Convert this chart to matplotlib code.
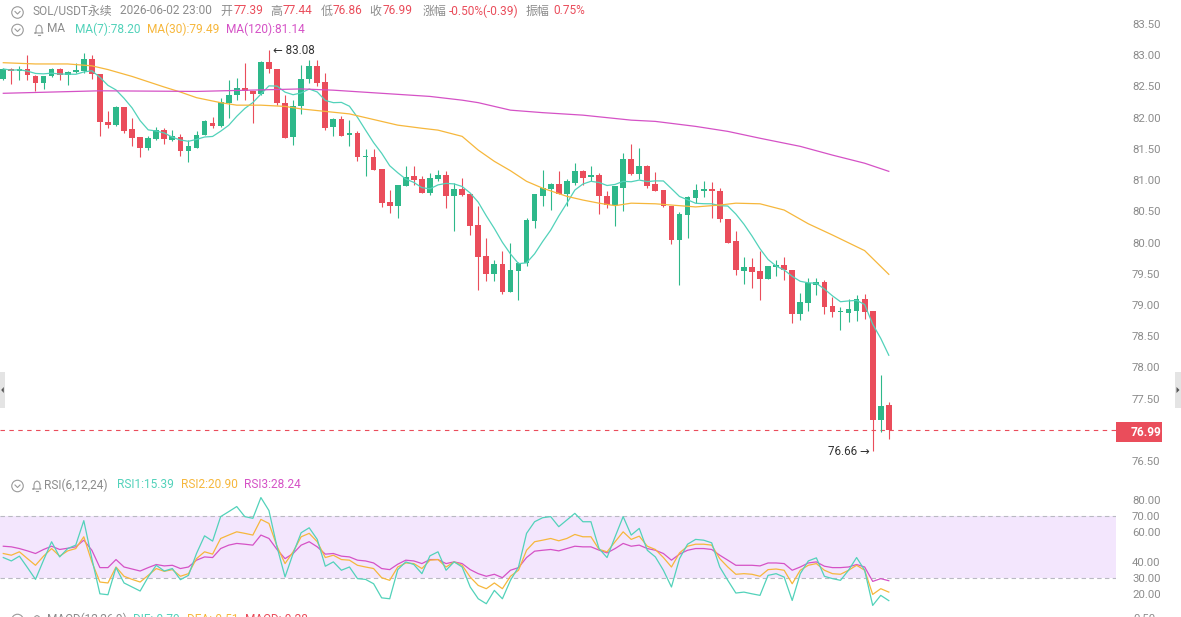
import matplotlib
matplotlib.use("Agg")
import matplotlib.pyplot as plt
from matplotlib.patches import Rectangle, Ellipse, Polygon
from matplotlib.lines import Line2D
import numpy as np
import pandas as pd

plt.rcParams['font.family'] = ['Roboto', 'Noto Sans CJK SC', 'DejaVu Sans']

# --- candle data (1h, SOL/USDT perpetual) ---
opens = [82.62, 82.78, 82.74, 82.78, 82.67, 82.56, 82.66, 82.78, 82.68, 82.73,
         82.75, 82.94, 82.70, 81.93, 81.88, 82.17, 81.82, 81.69, 81.51, 81.66,
         81.80, 81.64, 81.69, 81.47, 81.52, 81.72, 81.91, 81.86, 82.24, 82.36,
         82.48, 82.42, 82.38, 82.89, 82.78, 82.23, 81.69, 82.18, 82.62, 82.82,
         82.57, 81.85, 81.98, 81.72, 81.76, 81.37, 81.37, 81.18, 80.65, 80.58,
         80.91, 81.07, 81.02, 80.80, 81.02, 81.08, 80.75, 80.86, 80.78, 80.28,
         79.79, 79.50, 79.66, 79.20, 79.54, 79.67, 80.35, 80.75, 80.86, 80.94,
         80.78, 80.96, 81.14, 81.05, 81.08, 80.75, 80.60, 80.88, 81.34, 81.10,
         81.23, 80.94, 80.84, 80.59, 80.04, 80.44, 80.72, 80.83, 80.86, 80.83,
         80.38, 80.03, 79.55, 79.60, 79.54, 79.42, 79.61, 79.64, 79.56, 78.86,
         79.03, 79.32, 79.37, 78.98, 78.88, 78.87, 78.91, 79.10, 78.90, 77.16,
         77.39]
highs = [82.79, 82.79, 82.82, 83.00, 82.68, 82.67, 82.79, 82.79, 82.74, 82.87,
         83.03, 83.00, 82.70, 82.11, 82.19, 82.17, 81.99, 81.69, 81.70, 81.85,
         81.83, 81.80, 81.74, 81.64, 81.78, 81.96, 82.01, 82.32, 82.60, 82.63,
         82.87, 82.42, 82.91, 83.08, 82.78, 82.36, 82.28, 82.84, 82.92, 82.92,
         82.71, 81.99, 82.02, 81.96, 81.78, 81.50, 81.50, 81.18, 80.84, 80.92,
         81.23, 81.22, 81.07, 81.12, 81.16, 81.14, 80.95, 81.03, 80.78, 80.58,
         80.07, 79.72, 79.86, 79.99, 79.68, 80.40, 80.78, 81.16, 80.95, 81.15,
         81.02, 81.28, 81.16, 81.23, 81.11, 80.83, 80.90, 81.43, 81.58, 81.51,
         81.24, 81.13, 80.84, 80.59, 80.49, 80.74, 80.94, 80.99, 80.97, 80.87,
         80.38, 80.19, 79.77, 79.75, 79.87, 79.62, 79.72, 79.76, 79.56, 79.19,
         79.43, 79.43, 79.40, 79.13, 78.97, 79.10, 79.16, 79.18, 78.91, 77.88,
         77.44]
lows = [82.60, 82.54, 82.60, 82.60, 82.42, 82.46, 82.65, 82.60, 82.52, 82.71,
        82.71, 82.62, 81.71, 81.83, 81.86, 81.76, 81.54, 81.37, 81.48, 81.64,
        81.58, 81.62, 81.38, 81.29, 81.51, 81.72, 81.83, 81.85, 81.99, 82.28,
        82.28, 81.91, 82.36, 82.71, 82.20, 81.67, 81.56, 82.06, 82.56, 82.51,
        81.80, 81.70, 81.70, 81.55, 81.31, 81.06, 81.16, 80.57, 80.48, 80.39,
        80.91, 80.92, 80.79, 80.76, 80.98, 80.56, 80.18, 80.74, 80.12, 79.24,
        79.38, 79.39, 79.18, 79.20, 79.08, 79.63, 80.23, 80.59, 80.52, 80.78,
        80.58, 80.92, 80.92, 80.98, 80.46, 80.55, 80.27, 80.51, 81.08, 81.02,
        80.87, 80.82, 80.57, 79.98, 79.32, 80.07, 80.63, 80.73, 80.40, 80.33,
        80.00, 79.48, 79.34, 79.27, 79.08, 79.42, 79.46, 79.40, 78.71, 78.76,
        78.91, 79.16, 78.86, 78.81, 78.60, 78.72, 78.75, 78.78, 76.66, 76.97,
        76.86]
closes = [82.78, 82.74, 82.78, 82.68, 82.56, 82.67, 82.78, 82.68, 82.73, 82.76,
          82.94, 82.70, 81.93, 81.88, 82.17, 81.79, 81.68, 81.51, 81.67, 81.80,
          81.66, 81.70, 81.47, 81.54, 81.72, 81.94, 81.86, 82.25, 82.36, 82.48,
          82.42, 82.38, 82.89, 82.78, 82.23, 81.68, 82.19, 82.62, 82.82, 82.56,
          81.83, 81.98, 81.71, 81.76, 81.37, 81.39, 81.16, 80.64, 80.58, 80.92,
          81.05, 81.00, 80.80, 81.03, 81.08, 80.75, 80.86, 80.76, 80.27, 79.77,
          79.50, 79.66, 79.20, 79.56, 79.67, 80.36, 80.78, 80.88, 80.94, 80.78,
          80.99, 81.15, 81.04, 81.08, 80.75, 80.60, 80.90, 81.34, 81.10, 81.23,
          80.91, 80.83, 80.59, 80.04, 80.46, 80.73, 80.84, 80.86, 80.82, 80.38,
          80.00, 79.56, 79.60, 79.52, 79.42, 79.62, 79.64, 79.56, 78.85, 79.04,
          79.35, 79.37, 78.97, 78.88, 78.90, 78.94, 79.10, 78.89, 77.16, 77.38,
          76.99]

ma30_idx = [0, 4, 8, 11, 13, 16, 20, 22, 24, 27, 29, 32, 35, 37, 40, 43, 46, 49, 52, 54, 57,
            59, 61, 63, 65, 67, 70, 72, 74, 76, 78, 81, 84, 86, 89, 91, 94, 97, 100, 103, 107, 110]
ma30_val = [82.88, 82.86, 82.86, 82.83, 82.77, 82.66, 82.49, 82.41, 82.32, 82.24, 82.20,
            82.20, 82.18, 82.14, 82.10, 82.06, 81.97, 81.88, 81.83, 81.80, 81.70, 81.48,
            81.30, 81.15, 80.98, 80.87, 80.74, 80.68, 80.63, 80.59, 80.63, 80.62, 80.59,
            80.57, 80.60, 80.63, 80.62, 80.52, 80.30, 80.12, 79.87, 79.49]
ma120_idx = [0, 12, 24, 37, 41, 47, 53, 57, 59, 63, 67, 72, 78, 81, 86, 90, 94, 99, 103, 107, 110]
ma120_val = [82.39, 82.43, 82.42, 82.46, 82.44, 82.39, 82.34, 82.28, 82.24, 82.12, 82.08,
             82.04, 81.96, 81.94, 81.86, 81.78, 81.67, 81.54, 81.40, 81.27, 81.14]

# RSI(6,12,24)
rsi1 = [43.2, 41.0, 44.1, 36.7, 29.1, 41.5, 53.4, 43.6, 49.0, 51.2, 67.0, 42.5, 19.8, 19.2,
        36.7, 26.8, 24.2, 21.6, 30.7, 38.2, 34.5, 36.1, 28.9, 31.7, 45.8, 57.2, 53.8, 69.6,
        72.8, 76.1, 69.6, 68.5, 81.9, 73.5, 50.1, 30.7, 45.8, 59.2, 62.4, 54.9, 37.6, 40.4,
        35.0, 37.1, 29.6, 29.1, 26.3, 17.2, 16.6, 35.4, 40.4, 38.7, 32.8, 44.3, 46.9, 35.0,
        40.4, 37.1, 24.2, 16.6, 13.4, 22.0, 16.6, 28.5, 37.1, 58.8, 66.3, 68.9, 69.6, 63.1,
        67.4, 71.7, 66.3, 66.3, 49.0, 43.2, 56.6, 69.6, 57.7, 62.0, 47.9, 43.6, 35.0, 24.2,
        42.5, 51.8, 54.9, 54.4, 52.7, 37.1, 28.5, 20.3, 20.9, 19.8, 18.8, 31.7, 32.8, 30.6,
        15.5, 32.8, 41.0, 43.0, 31.1, 29.6, 28.5, 35.0, 43.2, 35.0, 12.3, 18.8, 15.4]
rsi2 = [45.8, 44.7, 46.9, 42.5, 38.2, 44.1, 49.0, 44.1, 47.5, 49.0, 56.6, 40.4, 27.4, 26.8,
        37.1, 31.1, 29.1, 27.4, 31.7, 36.1, 34.3, 35.4, 31.1, 32.8, 42.5, 46.9, 45.4, 55.5,
        57.7, 59.8, 58.8, 57.7, 67.8, 65.2, 50.5, 39.3, 46.9, 56.6, 58.8, 53.4, 43.2, 44.7,
        41.9, 41.5, 38.2, 37.1, 36.1, 30.2, 28.5, 37.1, 39.7, 39.3, 36.1, 41.5, 41.9, 37.1,
        40.4, 38.2, 30.6, 25.2, 23.1, 26.8, 23.1, 31.1, 35.0, 47.9, 53.4, 54.4, 55.5, 54.0,
        55.5, 58.1, 56.6, 56.6, 48.5, 46.9, 53.4, 59.8, 54.9, 57.0, 50.5, 48.4, 43.2, 37.1,
        46.2, 50.5, 51.8, 51.8, 51.2, 42.5, 37.1, 32.4, 32.8, 32.4, 31.1, 35.4, 35.8, 35.0,
        26.3, 35.0, 38.2, 39.3, 35.0, 32.8, 32.4, 35.0, 38.2, 35.0, 19.4, 23.1, 20.9]
rsi3 = [50.5, 50.1, 49.0, 47.5, 45.8, 48.4, 50.5, 48.4, 49.2, 50.1, 54.4, 47.9, 36.7, 36.7,
        41.9, 37.1, 35.8, 34.5, 36.7, 38.7, 37.8, 38.2, 36.1, 37.1, 41.5, 43.6, 43.2, 49.0,
        51.2, 52.3, 51.8, 51.2, 57.7, 55.5, 48.4, 42.5, 45.8, 51.2, 53.4, 50.1, 45.4, 45.8,
        44.1, 43.6, 41.5, 41.0, 39.7, 36.1, 35.4, 38.9, 41.5, 41.0, 39.3, 41.9, 41.9, 39.3,
        40.4, 39.3, 35.4, 32.8, 31.1, 32.4, 30.2, 35.0, 36.7, 43.2, 47.3, 47.9, 48.4, 47.5,
        49.0, 50.5, 50.1, 50.1, 48.0, 46.2, 49.0, 52.3, 50.5, 51.2, 49.0, 47.9, 45.8, 41.5,
        45.4, 47.9, 49.0, 49.0, 48.4, 44.7, 41.5, 38.2, 38.2, 38.2, 37.8, 39.7, 39.7, 39.3,
        35.0, 37.1, 39.7, 40.4, 37.6, 36.7, 36.7, 37.1, 38.7, 37.1, 27.8, 29.6, 28.24]

price_ticks = [83.5, 83.0, 82.5, 82.0, 81.5, 81.0, 80.5, 80.0, 79.5, 79.0, 78.5, 78.0, 77.5, 76.5]
rsi_ticks = [80, 70, 60, 40, 30, 20]

GREEN = '#2eb88a'
RED = '#ea4d5b'
TEAL = '#52d2ba'
ORANGE = '#f6b73c'
MAGENTA = '#d552c6'
GRAY = '#8c8c8c'
ICON = '#9a9a9a'

W, H = 1181, 617


def fx(x):
    return x / W


def fy(y):
    return 1 - y / H


def ftext(x, y, s, color, size=8.6, ha='left', **kw):
    return fig.text(fx(x), fy(y), s, color=color, fontsize=size, ha=ha, va='center', **kw)


def circle_icon(cx, cy):
    fig.add_artist(Ellipse((fx(cx), fy(cy)), 11.5 / W, 11.5 / H, transform=fig.transFigure,
                           fill=False, edgecolor=ICON, lw=0.8))
    fig.add_artist(Line2D([fx(cx - 2.5), fx(cx), fx(cx + 2.5)], [fy(cy - 1), fy(cy + 1.5), fy(cy - 1)],
                          transform=fig.transFigure, color=ICON, lw=0.8))


def bell_icon(cx, cy):
    pts = [(-4, 3.5), (-3, 2.5), (-3, -1), (-2, -3.5), (0, -4.5), (2, -3.5), (3, -1), (3, 2.5), (4, 3.5), (-4, 3.5)]
    fig.add_artist(Line2D([fx(cx + a) for a, b in pts], [fy(cy + b) for a, b in pts],
                          transform=fig.transFigure, color=ICON, lw=0.8))
    fig.add_artist(Line2D([fx(cx - 1.2), fx(cx + 1.2)], [fy(cy + 5), fy(cy + 5)],
                          transform=fig.transFigure, color=ICON, lw=0.8))


fig = plt.figure(figsize=(W / 100, H / 100), dpi=100)
fig.patch.set_facecolor('white')

x = np.arange(len(closes))
xlim = (-3.3 / 8.05, (1116 - 3.3) / 8.05)

# ---------------- main price panel ----------------
ax = fig.add_axes([0, fy(470), fx(1116), 470 / H])
ax.set_xlim(*xlim)
ax.set_ylim(83.5 - 446 / 62.43, 83.5 + 24 / 62.43)

o = np.array(opens)
c = np.array(closes)
up = c >= o
cols = np.where(up, GREEN, RED)
ax.vlines(x, lows, highs, colors=cols, lw=0.8, zorder=2)
body_h = np.maximum(np.abs(c - o), 0.018)
ax.bar(x, body_h, bottom=np.minimum(o, c), width=0.72, color=cols, lw=0, zorder=3)

ma7 = pd.Series(closes).rolling(7, min_periods=1).mean()
ax.plot(x, ma7, color=TEAL, lw=0.9, zorder=4)
ax.plot(ma30_idx, ma30_val, color=ORANGE, lw=0.9, zorder=4)
ax.plot(ma120_idx, ma120_val, color=MAGENTA, lw=0.9, zorder=4)

ax.axhline(closes[-1], color=RED, lw=0.8, dashes=(4, 4), zorder=1)

imax = int(np.argmax(highs))
imin = int(np.argmin(lows))
ax.annotate(f'← {highs[imax]:.2f}', xy=(imax, highs[imax]), xytext=(4, 0), textcoords='offset pixels',
            ha='left', va='center', fontsize=8.4, color='#333333', family=['Roboto', 'DejaVu Sans'])
ax.annotate(f'{lows[imin]:.2f} →', xy=(imin, lows[imin]), xytext=(-3, 0), textcoords='offset pixels',
            ha='right', va='center', fontsize=8.4, color='#333333', family=['Roboto', 'DejaVu Sans'])

ax.yaxis.tick_right()
ax.set_yticks(price_ticks)
ax.set_yticklabels([f'{t:.2f}' for t in price_ticks])
ax.tick_params(axis='y', length=0, pad=11.5, labelsize=8.2, labelcolor=GRAY)
ax.set_xticks([])
for s in ax.spines.values():
    s.set_visible(False)

# ---------------- RSI panel ----------------
ax2 = fig.add_axes([0, 0, fx(1116), 127 / H])
ax2.set_xlim(*xlim)
ax2.set_ylim(30 - 39 / 1.55, 70 + 26 / 1.55)
ax2.axhspan(30, 70, color='#f3e6fd', lw=0, zorder=0)
for lvl in (30, 70):
    ax2.axhline(lvl, color='#b9b9c2', lw=0.8, dashes=(4, 3), zorder=1)
ax2.plot(x, rsi3, color=MAGENTA, lw=0.9, zorder=3)
ax2.plot(x, rsi2, color=ORANGE, lw=0.9, zorder=3)
ax2.plot(x, rsi1, color=TEAL, lw=0.9, zorder=3)
ax2.yaxis.tick_right()
ax2.set_yticks(rsi_ticks)
ax2.set_yticklabels([f'{t:.2f}' for t in rsi_ticks])
ax2.tick_params(axis='y', length=0, pad=11.5, labelsize=8.2, labelcolor=GRAY)
ax2.set_xticks([])
for s in ax2.spines.values():
    s.set_visible(False)

# ---------------- price tag & side tabs ----------------
fig.add_artist(Rectangle((fx(1116), fy(442)), 46 / W, 20 / H, transform=fig.transFigure,
                         facecolor=RED, edgecolor='none'))
ftext(1146, 432, f'{closes[-1]:.2f}', 'white', size=8.6, ha='center', weight='bold')

fig.add_artist(Rectangle((0, fy(408)), 5 / W, 36 / H, transform=fig.transFigure,
                         facecolor='#e4e4e4', edgecolor='none'))
fig.add_artist(Rectangle((fx(1175), fy(408)), 6 / W, 36 / H, transform=fig.transFigure,
                         facecolor='#e4e4e4', edgecolor='none'))
fig.add_artist(Polygon([(fx(1.2), fy(390)), (fx(3.8), fy(387)), (fx(3.8), fy(393))], closed=True,
                       transform=fig.transFigure, facecolor='#555555', edgecolor='none'))
fig.add_artist(Polygon([(fx(1179.5), fy(390)), (fx(1176.5), fy(387)), (fx(1176.5), fy(393))], closed=True,
                       transform=fig.transFigure, facecolor='#555555', edgecolor='none'))

# ---------------- header texts ----------------
circle_icon(17.5, 12.5)
ftext(32.5, 11, 'SOL/USDT永续', GRAY)
ftext(119.8, 11, '2026-06-02 23:00', GRAY)
ftext(220, 11, '开', GRAY)
ftext(234, 11, '77.39', RED)
ftext(270, 11, '高', GRAY)
ftext(283, 11, '77.44', RED)
ftext(320.7, 11, '低', GRAY)
ftext(333, 11, '76.86', RED)
ftext(369, 11, '收', GRAY)
ftext(382.7, 11, '76.99', RED)
ftext(423, 11, '涨幅', GRAY)
ftext(448.5, 11, '-0.50%(-0.39)', RED)
ftext(526, 11, '振幅', GRAY)
ftext(553, 11, '0.75%', RED)

circle_icon(17.5, 30)
bell_icon(39, 29.5)
ftext(46.5, 29, 'MA', GRAY)
ftext(74.6, 29, 'MA(7):78.20', TEAL)
ftext(147, 29, 'MA(30):79.49', ORANGE)
ftext(226, 29, 'MA(120):81.14', MAGENTA)

circle_icon(17.5, 486)
bell_icon(37, 485.5)
ftext(44, 485, 'RSI(6,12,24)', GRAY)
ftext(116.7, 485, 'RSI1:15.39', TEAL)
ftext(180.6, 485, 'RSI2:20.90', ORANGE)
ftext(244, 485, 'RSI3:28.24', MAGENTA)

# MACD pane header, mostly below the bottom edge as in the reference
circle_icon(17.5, 620)
bell_icon(37, 620)
ftext(47, 619.5, 'MACD(12,26,9)', GRAY)
ftext(133, 619.5, 'DIF:-0.79', TEAL)
ftext(187, 619.5, 'DEA:-0.51', ORANGE)
ftext(245, 619.5, 'MACD:-0.28', RED)
ftext(1133, 618.5, '0.50', GRAY, size=8.2)

fig.savefig('out.png', dpi=100, facecolor='white')
